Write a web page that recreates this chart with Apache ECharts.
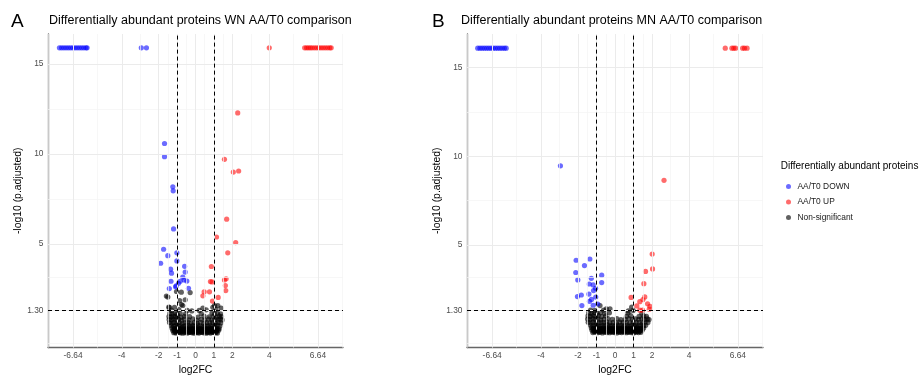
<!DOCTYPE html>
<html><head><meta charset="utf-8">
<script src="https://cdn.jsdelivr.net/npm/echarts@6/dist/echarts.min.js"></script>
<style>html,body{margin:0;padding:0;background:#fff}#c{width:920px;height:380px}</style>
</head><body><div id="c"></div>
<script>
// ---- tick positions / labels ----
const xTicks = [-6.64, -4, -2, -1, 0, 1, 2, 4, 6.64];
const xTickLabels = ['-6.64', '-4', '-2', '-1', '0', '1', '2', '4', '6.64'];
const xMinor = [-7.96, -5.32, -3, -1.5, -0.5, 0.5, 1.5, 3, 5.32, 7.96];
const yTicks = [1.3, 5, 10, 15];
const yTickLabels = ['1.30', '5', '10', '15'];
const yMinor = [-0.55, 3.15, 7.5, 12.5];
const fcCut = [-1, 1];
const pCut = [1.3];
const seriesNames = ['AA/T0 DOWN', 'AA/T0 UP', 'Non-significant'];
const panelTitles = ['Differentially abundant proteins WN AA/T0 comparison', 'Differentially abundant proteins MN AA/T0 comparison'];
const panelTags = ['A', 'B'];
const legendTitle = 'Differentially abundant proteins';

// ---- WN panel (A) ----
const wnDown = [
[-7.38,15.9],[-7.26,15.9],[-7.14,15.9],[-7.02,15.9],[-6.9,15.9],[-6.78,15.9],[-6.66,15.9],[-6.54,15.9],[-6.42,15.9],[-6.3,15.9],[-6.18,15.9],[-6.06,15.9],[-5.94,15.9],[-5.88,15.9],
[-2.94,15.9],[-2.66,15.9],
[-1.68,10.58],[-1.68,9.85],[-1.23,8.17],[-1.21,7.95],[-1.19,5.83],[-1.73,4.70],[-1.50,4.34],[-1.01,4.50],[-1.89,3.92],[-1.01,4.05],[-1.35,3.59],[-1.30,3.37],[-0.59,3.75],[-0.56,3.43],[-1.33,2.92],[-0.69,3.15],[-0.83,2.92],[-0.61,2.99],[-0.47,2.93],[-0.92,2.81],[-1.05,2.66],[-1.08,2.61],[-1.42,2.51],[-0.38,2.53]
];
const wnUp = [
[4.0,15.9],[5.92,15.9],[6.02,15.9],[6.12,15.9],[6.22,15.9],[6.32,15.9],[6.44,15.9],[6.56,15.9],[6.68,15.9],[6.8,15.9],[6.92,15.9],[7.04,15.9],[7.16,15.9],[7.28,15.9],[7.36,15.9],
[2.29,12.28],[1.57,9.70],[2.05,8.99],[2.34,9.05],[1.69,6.37],[1.14,5.38],[2.18,5.07],[1.75,4.50],[0.86,3.74],[1.57,2.99],[1.66,3.06],[1.62,2.68],[1.64,2.40],[0.81,2.90],[0.90,2.88],[0.47,2.33],[0.76,2.33],[0.40,2.11],[1.23,2.02],[0.92,1.82]
];
const wnNs = [
[-1.18,0.06],[-1.06,0.04],[-0.94,0.07],[-0.81,0.05],[-0.69,0.03],[-0.56,0.06],[-0.43,0.04],[-0.31,0.07],[-0.18,0.05],[-0.06,0.03],[0.07,0.06],[0.19,0.04],[0.32,0.07],[0.44,0.05],[0.57,0.03],[0.69,0.06],[0.82,0.04],[0.94,0.07],[1.07,0.05],[1.19,0.04],
[-1.12,0.1],[-1.0,0.12],[-0.87,0.09],[-0.75,0.11],[-0.62,0.1],[-0.49,0.12],[-0.37,0.09],[-0.24,0.11],[-0.12,0.1],[0.01,0.12],[0.13,0.09],[0.26,0.11],[0.38,0.1],[0.5,0.12],[0.63,0.09],[0.75,0.11],[0.88,0.1],[1.0,0.12],[1.13,0.09],
[-1.23,0.18],[-1.11,0.16],[-0.98,0.19],[-0.86,0.15],[-0.73,0.18],[-0.61,0.17],[-0.48,0.2],[-0.36,0.16],[-0.23,0.18],[-0.11,0.15],[0.02,0.19],[0.14,0.17],[0.27,0.16],[0.39,0.2],[0.52,0.17],[0.64,0.15],[0.77,0.19],[0.89,0.16],[1.02,0.18],[1.14,0.17],[1.26,0.2],
[-1.17,0.24],[-1.04,0.25],[-0.92,0.23],[-0.79,0.26],[-0.67,0.24],[-0.54,0.23],[-0.42,0.25],[-0.29,0.24],[-0.17,0.26],[-0.04,0.23],[0.08,0.25],[0.21,0.24],[0.33,0.26],[0.46,0.23],[0.58,0.25],[0.71,0.24],[0.83,0.26],[0.96,0.23],[1.08,0.25],[1.2,0.24],
[-1.27,0.31],[-1.14,0.29],[-1.01,0.33],[-0.88,0.28],[-0.76,0.32],[-0.63,0.3],[-0.5,0.27],[-0.38,0.33],[-0.25,0.29],[-0.12,0.31],[0.01,0.28],[0.13,0.33],[0.26,0.3],[0.38,0.27],[0.51,0.32],[0.63,0.29],[0.76,0.31],[0.88,0.28],[1.01,0.33],[1.13,0.3],[1.28,0.29],
[-1.31,0.45],[-1.18,0.42],[-1.05,0.47],[-0.92,0.43],[-0.79,0.46],[-0.66,0.41],[-0.53,0.45],[-0.41,0.48],[-0.28,0.43],[-0.15,0.46],[-0.02,0.42],[0.12,0.47],[0.25,0.44],[0.39,0.41],[0.52,0.46],[0.66,0.43],[0.79,0.47],[0.92,0.42],[1.05,0.45],[1.18,0.48],[1.32,0.43],
[-1.41,0.62],[-1.28,0.58],[-1.16,0.63],[-1.02,0.59],[-0.89,0.64],[-0.72,0.57],[-0.56,0.61],[-0.41,0.65],[-0.24,0.58],[-0.07,0.62],[0.09,0.59],[0.27,0.64],[0.44,0.57],[0.6,0.62],[0.77,0.6],[0.93,0.65],[1.08,0.58],[1.23,0.63],[1.38,0.6],
[-1.43,0.79],[-1.31,0.76],[-1.19,0.82],[-1.06,0.77],[-0.91,0.8],[-0.76,0.75],[-0.59,0.81],[-0.37,0.78],[-0.14,0.83],[0.06,0.76],[0.31,0.8],[0.51,0.77],[0.71,0.82],[0.89,0.76],[1.06,0.8],[1.21,0.78],[1.34,0.83],[1.44,0.77],
[-1.44,0.96],[-1.33,0.93],[-1.21,0.98],[-1.09,0.94],[-0.96,0.99],[-0.79,0.92],[-0.61,0.97],[-0.32,0.95],[0.14,0.93],[0.46,0.98],[0.74,0.94],[0.96,0.97],[1.13,0.92],[1.29,0.98],[1.41,0.95],
[-1.39,1.13],[-1.26,1.1],[-1.11,1.15],[-0.99,1.09],[-0.83,1.14],[-0.54,1.11],[0.31,1.12],[0.89,1.15],[1.04,1.1],[1.19,1.14],[1.36,1.11],
[-1.45,1.48],[-1.3,1.3],[-0.9,1.35],[-0.45,1.3],[-0.2,1.27],[0.2,1.3],[0.4,1.42],[0.58,1.33],[0.94,1.47],[1.03,1.57],[1.21,1.57],[1.39,1.42],[1.1,1.36],
[-1.58,2.1],[-1.5,2.04],[-1.03,2.35],[-0.77,2.31],[-0.29,2.29],[-0.86,1.84],[-0.56,1.89],[-0.76,1.62],[-1.41,1.47],[-1.14,1.47],[-0.69,1.57]
];

// ---- MN panel (B) ----
const mnDown = [
[-7.42,16.1],[-7.3,16.1],[-7.18,16.1],[-7.06,16.1],[-6.94,16.1],[-6.82,16.1],[-6.7,16.1],[-6.58,16.1],[-6.46,16.1],[-6.34,16.1],[-6.22,16.1],[-6.1,16.1],[-5.98,16.1],[-5.88,16.1],
[-2.95,9.46],[-2.10,4.13],[-1.36,4.20],[-1.65,3.83],[-2.12,3.44],[-2.01,3.02],[-0.72,3.29],[-0.72,2.87],[-1.28,3.11],[-1.39,2.79],[-1.18,2.74],[-1.05,2.55],[-1.16,2.42],[-1.41,2.22],[-2.03,2.08],[-1.82,2.17],[-1.04,2.05],[-1.27,1.92],[-1.38,1.81],[-1.79,1.57],[-1.18,1.59],[-0.93,1.66]
];
const mnUp = [
[5.96,16.1],[6.32,16.1],[6.42,16.1],[6.52,16.1],[6.9,16.1],[7.0,16.1],[7.14,16.1],
[2.65,8.64],[2.01,4.48],[2.03,3.64],[1.65,3.50],[1.56,2.81],[0.87,2.03],[1.61,2.06],[1.51,1.91],[1.34,1.79],[1.18,1.55],[1.76,1.67],[1.89,1.53],[1.85,1.37],[1.49,1.31],[1.34,1.31]
];
const mnNs = [
[-1.2,0.05],[-1.07,0.07],[-0.94,0.04],[-0.81,0.06],[-0.68,0.03],[-0.55,0.07],[-0.42,0.05],[-0.29,0.04],[-0.16,0.07],[-0.03,0.05],[0.1,0.03],[0.23,0.06],[0.36,0.05],[0.49,0.07],[0.62,0.04],[0.75,0.06],[0.88,0.05],[1.01,0.03],[1.14,0.07],[1.27,0.05],[1.4,0.06],
[-1.14,0.11],[-1.01,0.12],[-0.88,0.1],[-0.75,0.12],[-0.62,0.11],[-0.49,0.1],[-0.36,0.12],[-0.23,0.11],[-0.1,0.1],[0.03,0.12],[0.16,0.11],[0.29,0.1],[0.42,0.12],[0.55,0.11],[0.68,0.1],[0.81,0.12],[0.94,0.11],[1.07,0.1],[1.2,0.12],[1.33,0.11],
[-1.25,0.19],[-1.12,0.16],[-0.99,0.2],[-0.86,0.17],[-0.73,0.15],[-0.6,0.19],[-0.47,0.17],[-0.34,0.2],[-0.21,0.16],[-0.08,0.18],[0.05,0.15],[0.18,0.19],[0.31,0.17],[0.44,0.2],[0.57,0.16],[0.7,0.18],[0.83,0.15],[0.96,0.19],[1.09,0.17],[1.22,0.2],[1.35,0.16],[1.47,0.18],
[-1.19,0.25],[-1.06,0.26],[-0.93,0.24],[-0.8,0.25],[-0.67,0.26],[-0.54,0.24],[-0.41,0.25],[-0.28,0.26],[-0.15,0.24],[-0.02,0.25],[0.11,0.26],[0.24,0.24],[0.37,0.25],[0.5,0.26],[0.63,0.24],[0.76,0.25],[0.89,0.26],[1.02,0.24],[1.15,0.25],[1.28,0.26],[1.41,0.24],
[-1.28,0.32],[-1.15,0.29],[-1.02,0.33],[-0.89,0.3],[-0.76,0.28],[-0.63,0.32],[-0.5,0.3],[-0.37,0.33],[-0.24,0.29],[-0.11,0.31],[0.02,0.28],[0.15,0.32],[0.28,0.3],[0.41,0.33],[0.54,0.29],[0.67,0.31],[0.8,0.28],[0.93,0.32],[1.06,0.3],[1.19,0.33],[1.32,0.29],[1.45,0.31],[1.55,0.3],
[-1.32,0.46],[-1.19,0.43],[-1.06,0.47],[-0.93,0.44],[-0.8,0.42],[-0.67,0.46],[-0.54,0.44],[-0.41,0.48],[-0.28,0.43],[-0.15,0.45],[-0.02,0.42],[0.11,0.47],[0.24,0.44],[0.37,0.46],[0.5,0.43],[0.63,0.45],[0.76,0.42],[0.89,0.47],[1.02,0.44],[1.15,0.46],[1.28,0.43],[1.41,0.47],[1.54,0.44],[1.66,0.46],
[-1.45,0.63],[-1.32,0.6],[-1.18,0.64],[-1.04,0.61],[-0.9,0.59],[-0.75,0.63],[-0.6,0.61],[-0.44,0.65],[-0.28,0.6],[-0.1,0.62],[0.08,0.59],[0.26,0.64],[0.44,0.61],[0.62,0.63],[0.8,0.6],[0.98,0.64],[1.15,0.61],[1.32,0.63],[1.48,0.6],[1.63,0.64],[1.78,0.62],
[-1.48,0.81],[-1.35,0.78],[-1.21,0.83],[-1.07,0.79],[-0.93,0.82],[-0.77,0.77],[-0.58,0.81],[-0.38,0.84],[-0.15,0.8],[0.1,0.83],[0.32,0.78],[0.55,0.79],[0.75,0.83],[0.95,0.78],[1.1,0.82],[1.28,0.8],[1.45,0.84],[1.6,0.79],[1.75,0.82],[1.84,0.78],
[-1.46,0.99],[-1.33,0.96],[-1.19,1.0],[-1.05,0.97],[-0.9,1.01],[-0.72,0.95],[-0.5,0.99],[0.62,0.97],[0.85,1.0],[1.3,0.96],[1.55,0.99],[1.7,0.97],
[-1.42,1.16],[-1.27,1.13],[-1.12,1.18],[-0.96,1.14],[-0.78,1.17],[-0.55,1.13],[-0.3,1.16],[0.7,1.15],[1.45,1.14],
[-0.81,1.57],[-0.47,1.39],[-0.27,1.39],[0.9,1.48],[0.72,1.27],[-1.1,1.3],[-1.32,1.32],[-0.62,1.32],[0.98,1.3]
];

// ---- layout ----
const FONT = '"Liberation Sans", Arial, Helvetica, sans-serif';
const grids = [
  {left: 48, top: 34, width: 295, height: 318.7},
  {left: 467, top: 34, width: 296, height: 318.7}
];
const yRanges = [[-0.77, 16.67], [-0.8, 16.9]];
const colors = ['rgba(0,0,255,0.58)', 'rgba(255,0,0,0.58)', 'rgba(0,0,0,0.62)'];
const panels = [[wnDown, wnUp, wnNs], [mnDown, mnUp, mnNs]];

function lab(ticks, labels, v) {
  for (let i = 0; i < ticks.length; i++) if (Math.abs(ticks[i] - v) < 1e-6) return labels[i];
  return '';
}

const xAxes = [], yAxes = [], series = [], graphics = [];
grids.forEach((g, i) => {
  xAxes.push({
    type: 'value', gridIndex: i, min: -8, max: 8,
    axisLine: {show: true, onZero: false, lineStyle: {color: '#666', width: 1.3}},
    axisTick: {show: false}, splitLine: {show: false},
    axisLabel: {customValues: xTicks, formatter: v => lab(xTicks, xTickLabels, v), color: '#4D4D4D', fontSize: 8.4, margin: 4.5, fontFamily: FONT},
    name: 'log2FC', nameLocation: 'middle', nameGap: 17,
    nameTextStyle: {color: '#000', fontSize: 10.4, fontFamily: FONT}
  });
  yAxes.push({
    type: 'value', gridIndex: i, min: yRanges[i][0], max: yRanges[i][1],
    axisLine: {show: true, onZero: false, lineStyle: {color: '#666', width: 1.3}},
    axisTick: {show: false}, splitLine: {show: false},
    axisLabel: {customValues: yTicks, formatter: v => lab(yTicks, yTickLabels, v), color: '#4D4D4D', fontSize: 8.4, margin: 4.5, fontFamily: FONT},
    name: '-log10 (p.adjusted)', nameLocation: 'middle', nameGap: 25, nameRotate: 90,
    nameTextStyle: {color: '#000', fontSize: 10.4, fontFamily: FONT}
  });
  const gridLines = [];
  xMinor.forEach(v => gridLines.push({xAxis: v, lineStyle: {color: '#F3F3F3', width: 0.7, type: 'solid'}}));
  yMinor.forEach(v => gridLines.push({yAxis: v, lineStyle: {color: '#F3F3F3', width: 0.7, type: 'solid'}}));
  xTicks.forEach(v => gridLines.push({xAxis: v, lineStyle: {color: '#EBEBEB', width: 1, type: 'solid'}}));
  yTicks.forEach(v => gridLines.push({yAxis: v, lineStyle: {color: '#EBEBEB', width: 1, type: 'solid'}}));
  series.push({
    type: 'line', xAxisIndex: i, yAxisIndex: i, data: [], silent: true, z: 0,
    markLine: {silent: true, symbol: ['none', 'none'], animation: false, label: {show: false}, data: gridLines}
  });
  // points: non-significant first, then down, up
  [2, 0, 1].forEach(k => {
    series.push({
      name: seriesNames[k], type: 'scatter', xAxisIndex: i, yAxisIndex: i,
      data: panels[i][k], symbolSize: 5.2,
      itemStyle: {color: colors[k], borderWidth: 0, borderColor: 'transparent', opacity: 1},
      z: 2, silent: true
    });
  });
  const cutLines = [];
  fcCut.forEach(v => cutLines.push({xAxis: v}));
  pCut.forEach(v => cutLines.push({yAxis: v}));
  series.push({
    type: 'line', xAxisIndex: i, yAxisIndex: i, data: [], silent: true, z: 5,
    markLine: {silent: true, symbol: ['none', 'none'], animation: false, label: {show: false},
      lineStyle: {color: '#000', width: 1, type: [4, 3]}, data: cutLines}
  });
  graphics.push({type: 'text', x: [11, 432][i], y: 22, style: {text: panelTags[i], fontSize: 19, fontFamily: FONT, fill: '#000', verticalAlign: 'middle'}});
  graphics.push({type: 'text', x: [49, 461][i], y: 21, style: {text: panelTitles[i], fontSize: 12.5, fontFamily: FONT, fill: '#000', verticalAlign: 'middle'}});
});
graphics.push({type: 'text', x: 780.7, y: 166.7, style: {text: legendTitle, fontSize: 10, fontFamily: FONT, fill: '#000', verticalAlign: 'middle'}});

const chart = echarts.init(document.getElementById('c'), null, {renderer: 'canvas'});
chart.setOption({
  animation: false,
  backgroundColor: '#fff',
  grid: grids,
  xAxis: xAxes,
  yAxis: yAxes,
  legend: {
    data: seriesNames, orient: 'vertical', left: 786, top: 181.5, itemWidth: 8, itemHeight: 5, itemGap: 5.5,
    padding: 0, icon: 'circle', selectedMode: false,
    itemStyle: {borderWidth: 0},
    textStyle: {fontSize: 8.4, color: '#1a1a1a', fontFamily: FONT, lineHeight: 10}
  },
  graphic: graphics,
  series: series
});
</script>
</body></html>
